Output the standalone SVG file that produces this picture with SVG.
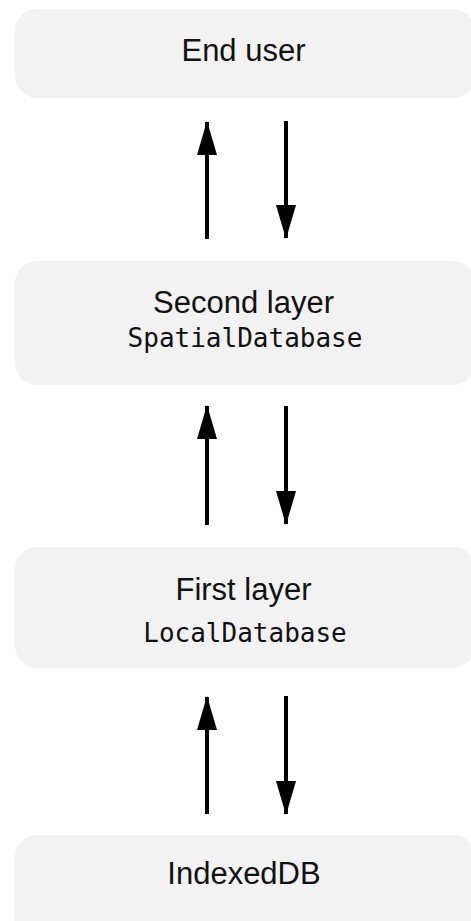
<svg xmlns="http://www.w3.org/2000/svg" width="471" height="921" viewBox="0 0 471 921">
  <style>
    .box { fill: #f2f2f2; }
    .label { font-family: "Liberation Sans", Arial, sans-serif; font-size: 31px; fill: #111; text-anchor: middle; }
    .code { font-family: "DejaVu Sans Mono", monospace; font-size: 26px; fill: #111; text-anchor: middle; }
    .link { stroke: #000; stroke-width: 4; fill: none; marker-end: url(#head); }
  </style>
  <defs>
    <marker id="head" markerUnits="userSpaceOnUse" markerWidth="34" markerHeight="20" refX="33" refY="10" orient="auto">
      <path d="M0,0 L34,10 L0,20 Z" fill="#000"/>
    </marker>
  </defs>

  <g id="end-user">
    <rect class="box" x="15" y="9" width="460" height="89" rx="22"/>
    <text class="label" x="243.5" y="61">End user</text>
  </g>

  <g id="second-layer">
    <rect class="box" x="15" y="261" width="460" height="124" rx="22"/>
    <text class="label" x="243.5" y="313">Second layer</text>
    <text class="code" x="245" y="347">SpatialDatabase</text>
  </g>

  <g id="first-layer">
    <rect class="box" x="15" y="547" width="460" height="121" rx="22"/>
    <text class="label" x="243.5" y="600">First layer</text>
    <text class="code" x="245" y="642">LocalDatabase</text>
  </g>

  <g id="indexeddb">
    <rect class="box" x="15" y="835" width="460" height="110" rx="22"/>
    <text class="label" x="244" y="884">IndexedDB</text>
  </g>

  <g id="connectors">
    <line class="link" x1="207" y1="239" x2="207" y2="122"/>
    <line class="link" x1="286" y1="121" x2="286" y2="238"/>
    <line class="link" x1="207" y1="525" x2="207" y2="406"/>
    <line class="link" x1="286" y1="406" x2="286" y2="524"/>
    <line class="link" x1="207" y1="814" x2="207" y2="697"/>
    <line class="link" x1="286" y1="696" x2="286" y2="814"/>
  </g>
</svg>
